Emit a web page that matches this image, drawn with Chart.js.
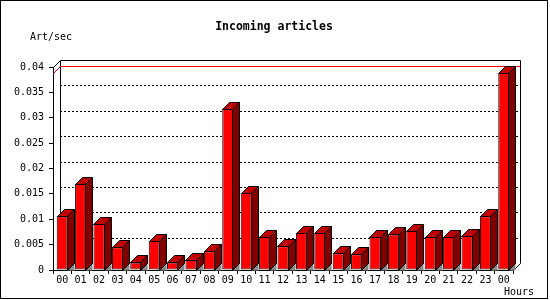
<!DOCTYPE html>
<html>
<head>
<meta charset="utf-8">
<script src="https://cdn.jsdelivr.net/npm/chart.js@4"></script>
<style>
    html, body { margin: 0; padding: 0; background: #fff; }
    canvas { display: block; }
</style>
</head>
<body>
<canvas id="myBarChart" width="550" height="300"></canvas>
<script>
// hour labels (x axis)
const hours = ["00", "01", "02", "03", "04", "05", "06", "07", "08", "09", "10", "11",
    "12", "13", "14", "15", "16", "17", "18", "19", "20", "21", "22", "23", "00"];
// incoming articles per second
const artPerSec = [0.0106, 0.0170, 0.0091, 0.0045, 0.0015, 0.0057, 0.0015, 0.0020, 0.0037,
    0.0317, 0.0152, 0.0066, 0.0047, 0.0073, 0.0073, 0.0033, 0.0031, 0.0065, 0.0070,
    0.0077, 0.0065, 0.0065, 0.0067, 0.0106, 0.0388];
// y axis tick labels
const yTickLabels = ["0", "0.005", "0.01", "0.015", "0.02", "0.025", "0.03", "0.035", "0.04"];
const yMax = 0.04;
const yStep = 0.005;

const depth = 7; // 3d offset
const monoFont = "'DejaVu Sans Mono', monospace";

const threeD = {
    id: "threeD",
    beforeDatasetsDraw(chart) {
        const { ctx, chartArea: a, scales: { y } } = chart;
        ctx.save();
        ctx.lineWidth = 1;
        ctx.strokeStyle = "#000";

        // dotted grid on the back wall
        ctx.setLineDash([2, 2]);
        y.ticks.forEach((t) => {
            if (t.value <= 0 || t.value >= yMax) return;
            const py = Math.round(y.getPixelForValue(t.value)) - depth + 0.5;
            ctx.beginPath();
            ctx.moveTo(a.left + depth, py);
            ctx.lineTo(a.right + depth, py);
            ctx.stroke();
        });
        ctx.setLineDash([]);

        // back wall outline
        const bl = Math.round(a.left) + depth + 0.5;
        const br = Math.round(a.right) + depth + 0.5;
        const bt = Math.round(a.top) - depth + 0.5;
        ctx.beginPath();
        ctx.moveTo(Math.round(a.left) + 0.5, Math.round(a.top) + 0.5);
        ctx.lineTo(bl, bt);
        ctx.lineTo(br, bt);
        ctx.lineTo(br, Math.round(a.bottom) - depth + 0.5);
        ctx.lineTo(Math.round(a.right) + 0.5, Math.round(a.bottom) + 0.5);
        ctx.moveTo(bl, bt);
        ctx.lineTo(bl, Math.round(a.bottom) - depth);
        ctx.stroke();

        // red line at the max value
        const maxVal = Math.max(...artPerSec);
        const my = Math.round(y.getPixelForValue(maxVal)) + 0.5;
        ctx.strokeStyle = "#ff0000";
        ctx.beginPath();
        ctx.moveTo(Math.round(a.left) + 0.5, my);
        ctx.lineTo(bl, my - depth);
        ctx.lineTo(br, my - depth);
        ctx.stroke();
        ctx.restore();
    },
    afterDatasetsDraw(chart) {
        const { ctx } = chart;
        const meta = chart.getDatasetMeta(0);
        ctx.save();
        ctx.lineWidth = 1;
        ctx.strokeStyle = "#000";
        meta.data.forEach((bar) => {
            const x0 = Math.round(bar.x - bar.width / 2) + 0.5;
            const x1 = Math.round(bar.x + bar.width / 2) - 0.5;
            const top = Math.round(bar.y) + 0.5;
            const base = Math.round(bar.base) + 0.5;

            // floor shadow
            ctx.fillStyle = "#888888";
            ctx.beginPath();
            ctx.moveTo(x1, base);
            ctx.lineTo(x1 + depth, base - depth);
            ctx.lineTo(x1 + depth, base);
            ctx.closePath();
            ctx.fill();

            // side face
            ctx.fillStyle = "#800000";
            ctx.beginPath();
            ctx.moveTo(x1, top);
            ctx.lineTo(x1 + depth, top - depth);
            ctx.lineTo(x1 + depth, base - depth);
            ctx.lineTo(x1, base);
            ctx.closePath();
            ctx.fill();
            ctx.stroke();

            // top face
            ctx.fillStyle = "#c00000";
            ctx.beginPath();
            ctx.moveTo(x0, top);
            ctx.lineTo(x0 + depth, top - depth);
            ctx.lineTo(x1 + depth, top - depth);
            ctx.lineTo(x1, top);
            ctx.closePath();
            ctx.fill();
            ctx.stroke();
        });
        ctx.restore();
    },
    afterDraw(chart) {
        const { ctx } = chart;
        ctx.save();
        ctx.fillStyle = "#000";
        ctx.textBaseline = "middle";

        ctx.font = "bold 11.5px " + monoFont;
        ctx.textAlign = "center";
        ctx.fillText("Incoming articles", 274, 27);

        ctx.font = "10px " + monoFont;
        ctx.textAlign = "left";
        ctx.fillText("Art/sec", 30, 37);
        ctx.textAlign = "right";
        ctx.fillText("Hours", 534, 292);

        // outer frame
        ctx.strokeStyle = "#000";
        ctx.lineWidth = 1;
        ctx.strokeRect(0.5, 0.5, 547, 298);
        ctx.restore();
    },
};

new Chart(document.getElementById("myBarChart"), {
    type: "bar",
    data: {
        labels: hours,
        datasets: [
            {
                label: "Art/sec",
                data: artPerSec,
                backgroundColor: "#ff0000",
                borderColor: "#000",
                borderWidth: 1,
                borderSkipped: false,
                barPercentage: 0.6,
                categoryPercentage: 1,
                clip: false,
            },
        ],
    },
    options: {
        responsive: false,
        devicePixelRatio: 1,
        animation: false,
        layout: { padding: { top: 67, right: 37, bottom: 0, left: 0 } },
        scales: {
            x: {
                offset: true,
                afterFit: (s) => { s.height = 30; },
                border: { display: true, color: "#000", width: 1 },
                grid: {
                    offset: true,
                    drawOnChartArea: false,
                    tickLength: 4,
                    color: "#000",
                },
                ticks: {
                    color: "#000",
                    padding: 0,
                    maxRotation: 0,
                    autoSkip: false,
                    font: { family: monoFont, size: 10 },
                },
            },
            y: {
                min: 0,
                max: yMax,
                afterFit: (s) => { s.width = 53; },
                border: { display: true, color: "#000", width: 1 },
                grid: {
                    drawOnChartArea: false,
                    tickLength: 4,
                    color: "#000",
                },
                ticks: {
                    stepSize: yStep,
                    color: "#000",
                    padding: 5,
                    font: { family: monoFont, size: 10 },
                    callback: (v, i) => yTickLabels[i],
                },
            },
        },
        plugins: {
            legend: { display: false },
            tooltip: { enabled: false },
        },
    },
    plugins: [threeD],
});
</script>
</body>
</html>
